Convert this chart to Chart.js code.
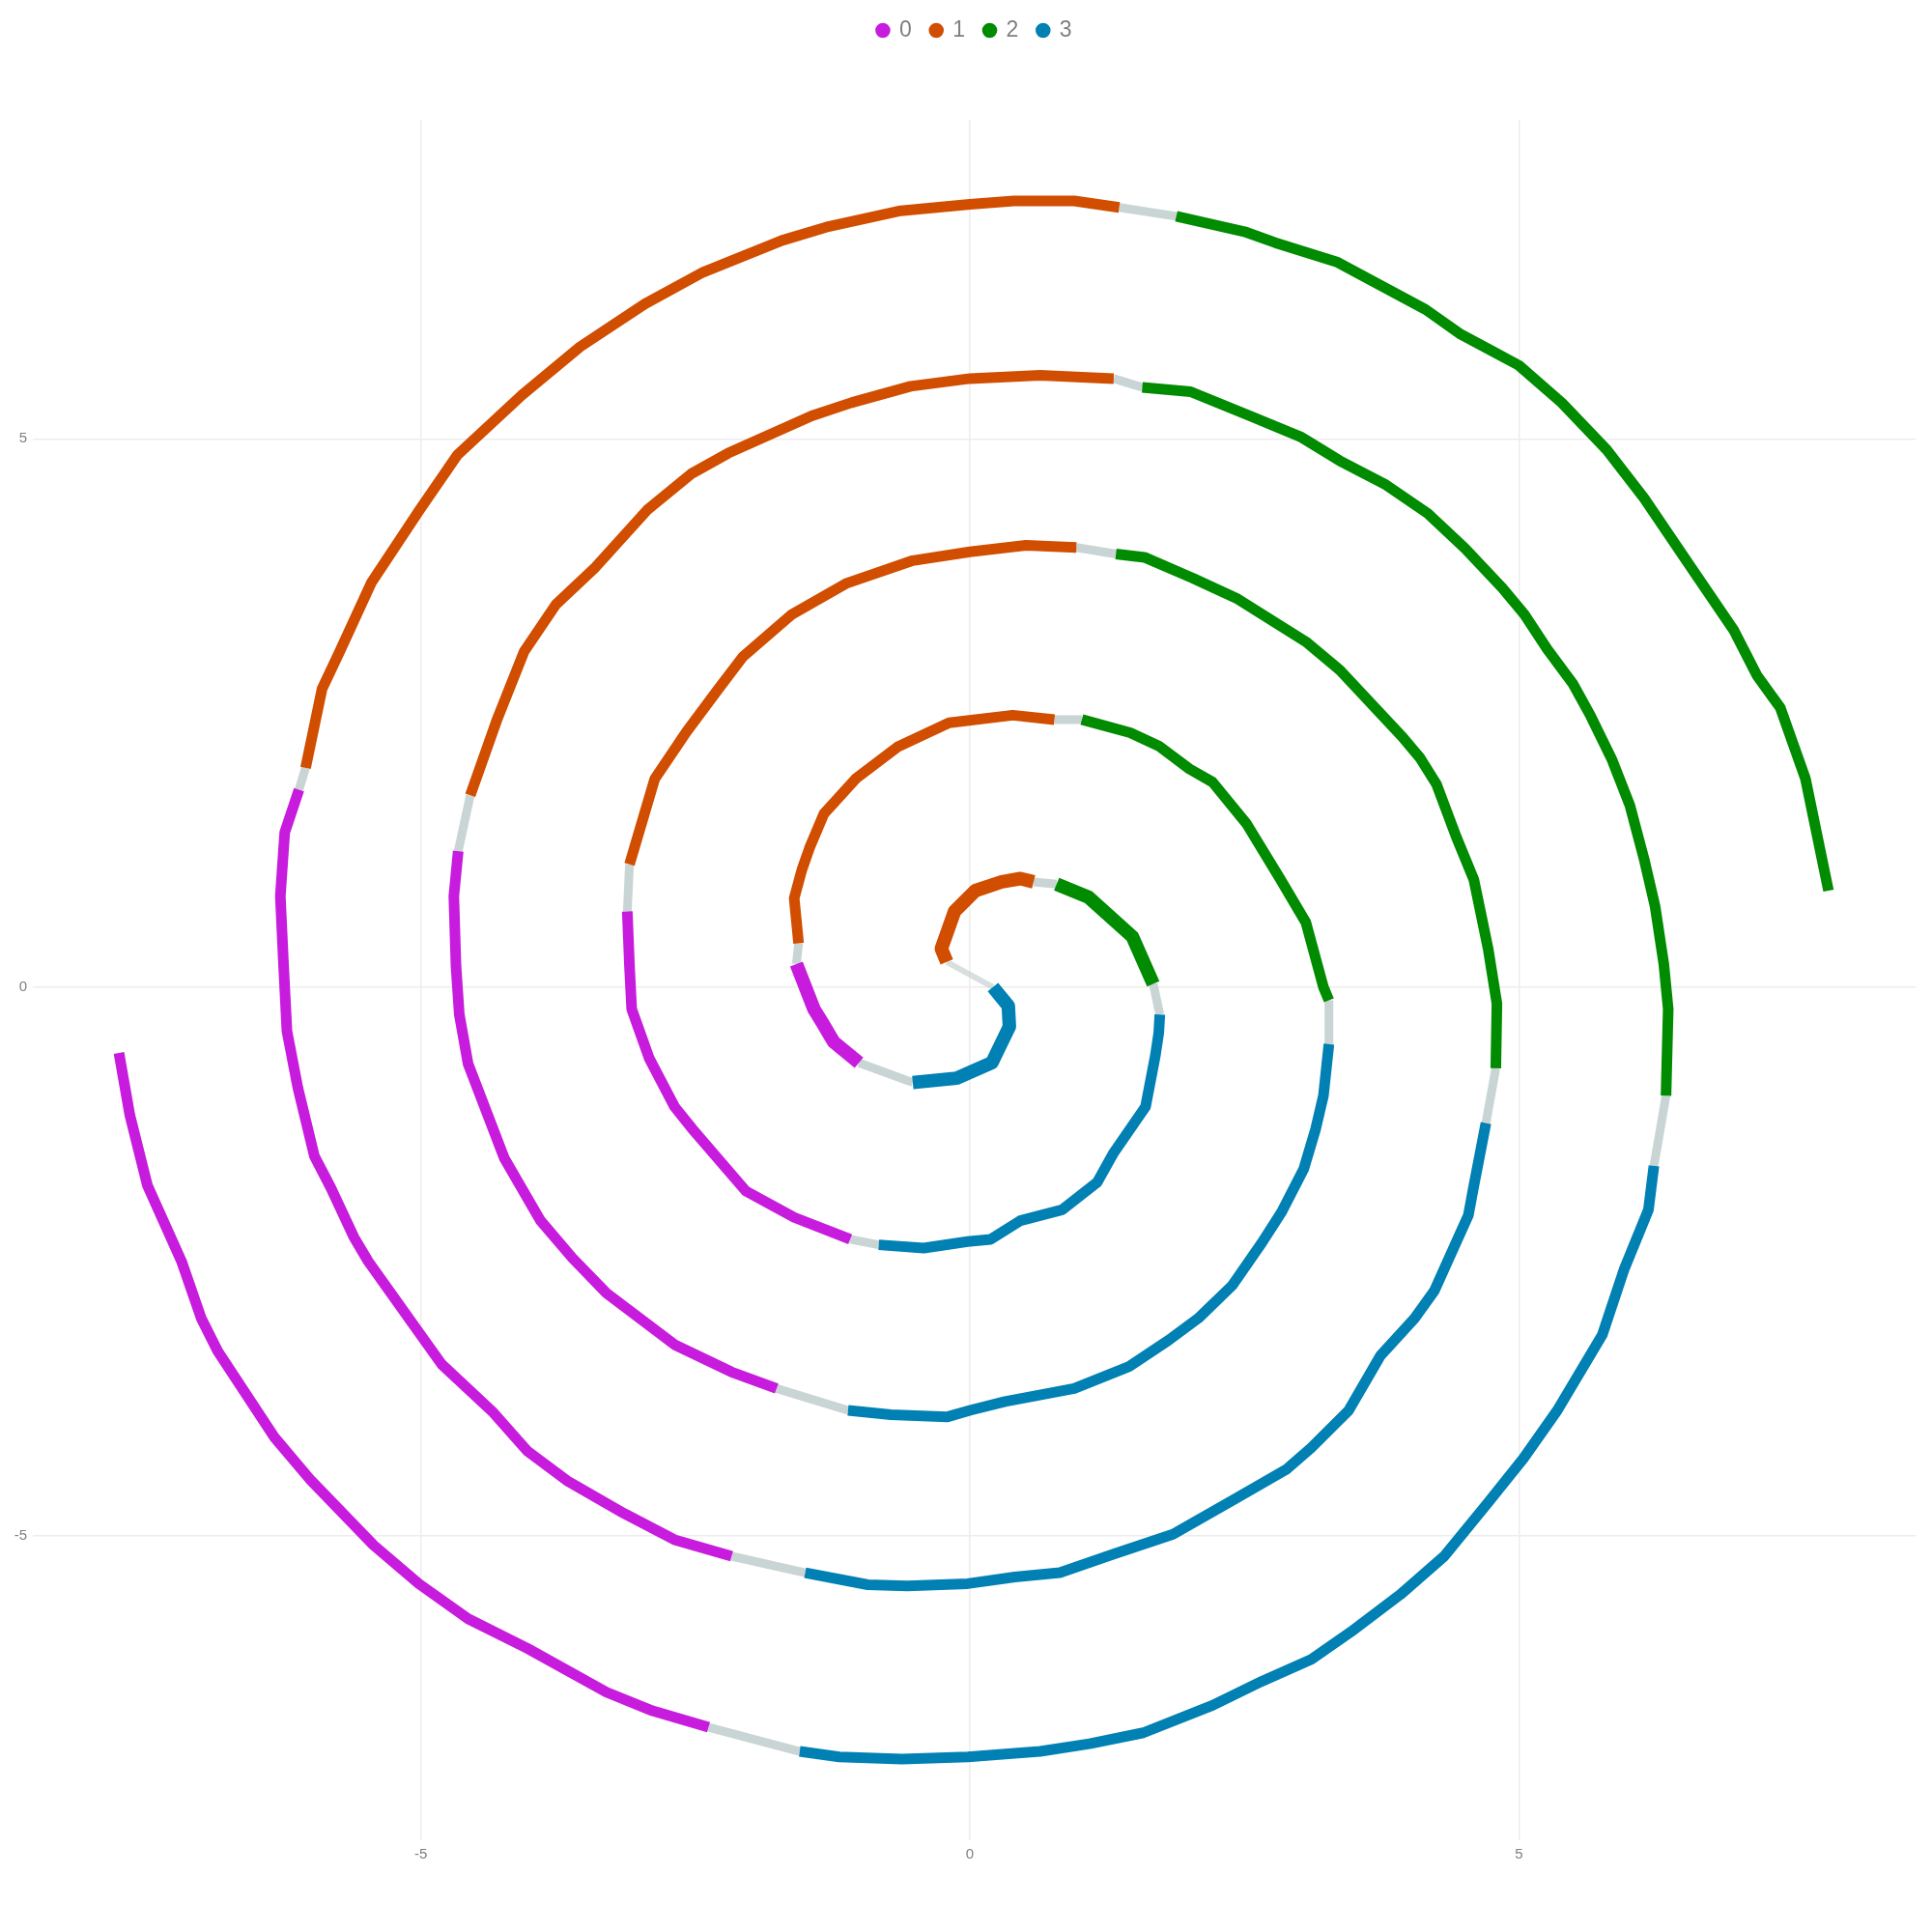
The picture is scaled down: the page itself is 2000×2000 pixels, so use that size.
<!DOCTYPE html>
<html>
<head>
<meta charset="utf-8">
<script src="https://cdn.jsdelivr.net/npm/chart.js@4.4.1/dist/chart.umd.min.js"></script>
<style>
  html, body { margin: 0; padding: 0; background: #ffffff; }
  #wrap { width: 2000px; height: 2000px; }
</style>
</head>
<body>
<div id="wrap"><canvas id="c" width="2000" height="2000"></canvas></div>
<script>
// ---- data ----
const legendLabels = ['0', '1', '2', '3'];
const xTicks = [-5, 0, 5];
const yTicks = [-5, 0, 5];

// arm A: from the centre outward (ends top-right, green)
const armA_x = [
  -0.21, -0.26, -0.14, 0.05, 0.29, 0.46, 0.58,
  0.79, 1.08, 1.48, 1.67,
  1.73, 1.72, 1.69, 1.60, 1.31, 1.16, 0.84, 0.46, 0.19, -0.02, -0.42, -0.83,
  -1.09, -1.60, -2.04, -2.53, -2.69, -2.92, -3.08, -3.10, -3.12,
  -3.10, -2.87, -2.58, -2.29, -2.07, -1.62, -1.13, -0.52, 0.00, 0.51, 0.97,
  1.33, 1.59, 2.03, 2.44, 3.06, 3.37, 3.94, 4.10, 4.25, 4.43, 4.59, 4.72, 4.80, 4.79,
  4.70, 4.59, 4.54, 4.23, 4.05, 3.74, 3.45, 3.11, 2.88, 2.41, 1.85, 1.31, 0.82, 0.41, -0.02, -0.57, -0.93, -1.50,
  -2.17, -2.69, -3.15, -3.67, -4.03, -4.34, -4.81, -5.06, -5.48, -5.61, -5.82, -5.97, -6.12, -6.22, -6.25, -6.28, -6.24, -6.11,
  -6.05, -5.90, -5.74, -5.45, -5.02, -4.67, -4.08, -3.55, -2.96, -2.43, -1.71, -1.31, -0.63, 0.00, 0.40, 0.95, 1.36,
  1.88, 2.50, 2.78, 3.35, 3.76, 4.15, 4.46, 4.74, 5.00, 5.39, 5.80, 6.14, 6.58, 6.96, 7.17, 7.38, 7.61, 7.82
];
const armA_y = [
  0.23, 0.35, 0.69, 0.88, 0.96, 0.99, 0.96,
  0.94, 0.82, 0.46, 0.03,
  -0.25, -0.42, -0.62, -1.09, -1.51, -1.78, -2.03, -2.13, -2.30, -2.32, -2.38, -2.35,
  -2.30, -2.10, -1.86, -1.29, -1.09, -0.65, -0.20, 0.19, 0.69,
  1.12, 1.90, 2.33, 2.72, 3.01, 3.40, 3.68, 3.89, 3.97, 4.03, 4.01,
  3.95, 3.92, 3.73, 3.54, 3.15, 2.89, 2.28, 2.09, 1.85, 1.37, 0.98, 0.35, -0.15, -0.74,
  -1.24, -1.81, -2.08, -2.77, -3.02, -3.36, -3.86, -4.20, -4.40, -4.67, -4.99, -5.17, -5.34, -5.38, -5.44, -5.46, -5.45, -5.34,
  -5.19, -5.04, -4.80, -4.50, -4.23, -3.88, -3.44, -3.09, -2.50, -2.28, -1.83, -1.54, -0.92, -0.40, 0.19, 0.83, 1.41, 1.80,
  2.00, 2.72, 3.06, 3.69, 4.34, 4.85, 5.40, 5.84, 6.23, 6.52, 6.81, 6.93, 7.08, 7.14, 7.17, 7.17, 7.11,
  7.03, 6.89, 6.79, 6.61, 6.39, 6.18, 5.96, 5.81, 5.67, 5.33, 4.90, 4.46, 3.81, 3.25, 2.84, 2.55, 1.90, 0.88
];
const armA_group = [
  1, 1, 1, 1, 1, 1, 1,
  2, 2, 2, 2,
  3, 3, 3, 3, 3, 3, 3, 3, 3, 3, 3, 3,
  0, 0, 0, 0, 0, 0, 0, 0, 0,
  1, 1, 1, 1, 1, 1, 1, 1, 1, 1, 1,
  2, 2, 2, 2, 2, 2, 2, 2, 2, 2, 2, 2, 2, 2,
  3, 3, 3, 3, 3, 3, 3, 3, 3, 3, 3, 3, 3, 3, 3, 3, 3, 3,
  0, 0, 0, 0, 0, 0, 0, 0, 0, 0, 0, 0, 0, 0, 0, 0, 0, 0,
  1, 1, 1, 1, 1, 1, 1, 1, 1, 1, 1, 1, 1, 1, 1, 1, 1,
  2, 2, 2, 2, 2, 2, 2, 2, 2, 2, 2, 2, 2, 2, 2, 2, 2, 2
];

// arm B: from the centre outward (ends left, magenta)
const armB_x = [
  0.21, 0.35, 0.36, 0.20, -0.12, -0.52,
  -1.01, -1.24, -1.34, -1.42, -1.58,
  -1.56, -1.60, -1.53, -1.46, -1.33, -1.04, -0.66, -0.19, 0.39, 0.77,
  1.02, 1.46, 1.72, 2.00, 2.21, 2.52, 2.83, 3.06, 3.22, 3.27,
  3.27, 3.22, 3.15, 3.04, 2.84, 2.66, 2.39, 2.08, 1.81, 1.45, 0.95, 0.32, 0.00, -0.21, -0.72, -1.11,
  -1.76, -2.17, -2.69, -3.31, -3.62, -3.91, -4.24, -4.57, -4.65, -4.68, -4.70, -4.66,
  -4.55, -4.31, -4.06, -3.77, -3.41, -2.94, -2.54, -2.20, -1.44, -1.08, -0.54, 0.00, 0.64, 1.31,
  1.57, 2.01, 2.55, 3.01, 3.37, 3.79, 4.17, 4.51, 4.85, 5.05, 5.26, 5.49, 5.65, 5.85, 6.01, 6.14, 6.24, 6.32, 6.36, 6.34,
  6.23, 6.18, 5.96, 5.76, 5.35, 5.04, 4.72, 4.32, 3.92, 3.47, 3.11, 2.66, 2.21, 1.58, 1.09, 0.64, -0.02, -0.62, -1.19, -1.55,
  -2.38, -2.89, -3.31, -4.03, -4.57, -5.02, -5.43, -6.00, -6.33, -6.85, -7.00, -7.18, -7.49, -7.65, -7.75
];
const armB_y = [
  0.00, -0.17, -0.36, -0.69, -0.83, -0.87,
  -0.69, -0.50, -0.33, -0.20, 0.21,
  0.40, 0.81, 1.07, 1.27, 1.58, 1.90, 2.19, 2.41, 2.48, 2.44,
  2.44, 2.32, 2.20, 1.99, 1.87, 1.49, 0.98, 0.59, 0.00, -0.12,
  -0.52, -0.99, -1.29, -1.66, -2.05, -2.33, -2.72, -3.02, -3.22, -3.46, -3.66, -3.78, -3.86, -3.92, -3.90, -3.86,
  -3.66, -3.51, -3.26, -2.79, -2.47, -2.13, -1.56, -0.70, -0.25, 0.19, 0.83, 1.24,
  1.75, 2.43, 3.06, 3.49, 3.83, 4.35, 4.68, 4.87, 5.21, 5.33, 5.48, 5.55, 5.58, 5.55,
  5.47, 5.43, 5.21, 5.02, 4.80, 4.58, 4.32, 4.00, 3.64, 3.40, 3.08, 2.77, 2.48, 2.07, 1.66, 1.17, 0.74, 0.21, -0.20, -0.99,
  -1.63, -2.03, -2.57, -3.17, -3.86, -4.30, -4.70, -5.19, -5.54, -5.88, -6.13, -6.33, -6.55, -6.80, -6.90, -6.97, -7.02, -7.04, -7.02, -6.97,
  -6.75, -6.60, -6.43, -6.03, -5.76, -5.44, -5.09, -4.50, -4.11, -3.32, -3.02, -2.50, -1.81, -1.17, -0.60
];
const armB_group = [
  3, 3, 3, 3, 3, 3,
  0, 0, 0, 0, 0,
  1, 1, 1, 1, 1, 1, 1, 1, 1, 1,
  2, 2, 2, 2, 2, 2, 2, 2, 2, 2,
  3, 3, 3, 3, 3, 3, 3, 3, 3, 3, 3, 3, 3, 3, 3, 3,
  0, 0, 0, 0, 0, 0, 0, 0, 0, 0, 0, 0,
  1, 1, 1, 1, 1, 1, 1, 1, 1, 1, 1, 1, 1, 1,
  2, 2, 2, 2, 2, 2, 2, 2, 2, 2, 2, 2, 2, 2, 2, 2, 2, 2, 2, 2,
  3, 3, 3, 3, 3, 3, 3, 3, 3, 3, 3, 3, 3, 3, 3, 3, 3, 3, 3, 3,
  0, 0, 0, 0, 0, 0, 0, 0, 0, 0, 0, 0, 0, 0, 0
];

// ---- styling ----
const groupColors = ['#C71CDD', '#D14D00', '#008B00', '#0080B3'];
const transitionColor = 'rgba(192,204,204,0.85)';
const axisTextColor = '#7F7F7F';
const gridColor = '#EDEDED';

function buildArm(xs, ys, gs) {
  const runs = [], links = [];
  let run = null;
  for (let i = 0; i < xs.length; i++) {
    const p = { x: xs[i], y: ys[i] };
    if (run && run.g === gs[i]) { run.pts.push(p); }
    else {
      if (run) { runs.push(run); links.push([run.pts[run.pts.length - 1], p]); }
      run = { g: gs[i], pts: [p] };
    }
  }
  runs.push(run);
  return { runs, links };
}

const arms = [buildArm(armA_x, armA_y, armA_group), buildArm(armB_x, armB_y, armB_group)];
const datasets = [];
arms.forEach(a => a.runs.forEach((r, k) => {
  datasets.push({
    label: legendLabels[r.g],
    data: r.pts,
    showLine: true,
    borderColor: groupColors[r.g],
    backgroundColor: groupColors[r.g],
    borderWidth: k < 2 ? 14 : 11,
    borderJoinStyle: 'round',
    borderCapStyle: 'butt',
    pointRadius: 0,
    pointHoverRadius: 0,
    tension: 0,
    fill: false
  });
}));
arms.forEach(a => a.links.forEach(l => {
  datasets.push({
    label: '',
    data: l,
    showLine: true,
    borderColor: transitionColor,
    borderWidth: 9,
    pointRadius: 0,
    pointHoverRadius: 0,
    tension: 0,
    fill: false
  });
}));
// centre link joining the two arms
datasets.push({
  label: '',
  data: [{ x: armA_x[0], y: armA_y[0] }, { x: armB_x[0], y: armB_y[0] }],
  showLine: true,
  borderColor: 'rgba(200,210,210,0.7)',
  borderWidth: 6,
  pointRadius: 0,
  tension: 0,
  fill: false
});

const legendFix = {
  id: 'legendFix',
  afterInit(chart) {
    const lg = chart.legend;
    if (lg) {
      const fit = lg.fit.bind(lg);
      lg.fit = function () { fit(); this.height = 124; };
    }
  },
  afterLayout(chart) {
    if (chart.legend) { chart.legend.left = 35; chart.legend.right = 1983; }
  }
};

const tickFont = { family: "'Liberation Sans', Arial, sans-serif", size: 15 };

new Chart(document.getElementById('c'), {
  type: 'scatter',
  data: { datasets },
  plugins: [legendFix],
  options: {
    responsive: false,
    animation: false,
    devicePixelRatio: 1,
    layout: { padding: { left: 0, right: 17, top: 0, bottom: 0 } },
    plugins: {
      tooltip: { enabled: false },
      legend: {
        display: true,
        position: 'top',
        align: 'center',
        labels: {
          usePointStyle: true,
          boxWidth: 11,
          boxHeight: 11,
          padding: 20,
          color: axisTextColor,
          font: { family: "'Liberation Sans', Arial, sans-serif", size: 23 },
          generateLabels: () => legendLabels.map((t, i) => ({
            text: t,
            fillStyle: groupColors[i],
            strokeStyle: groupColors[i],
            lineWidth: 0,
            pointStyle: 'circle',
            hidden: false,
            fontColor: axisTextColor
          }))
        }
      }
    },
    scales: {
      x: {
        type: 'linear',
        min: -8.534,
        max: 8.613,
        afterBuildTicks: s => { s.ticks = xTicks.map(v => ({ value: v })); },
        afterFit: s => { s.height = 95; },
        grid: { color: gridColor, lineWidth: 1.5, drawTicks: false },
        border: { display: false },
        ticks: { color: axisTextColor, font: tickFont, padding: 6 }
      },
      y: {
        type: 'linear',
        min: -7.78,
        max: 7.91,
        afterBuildTicks: s => { s.ticks = yTicks.map(v => ({ value: v })); },
        afterFit: s => { s.width = 34; },
        grid: { color: gridColor, lineWidth: 1.5, drawTicks: false },
        border: { display: false },
        ticks: { color: axisTextColor, font: tickFont, padding: 6 }
      }
    }
  }
});
</script>
</body>
</html>
